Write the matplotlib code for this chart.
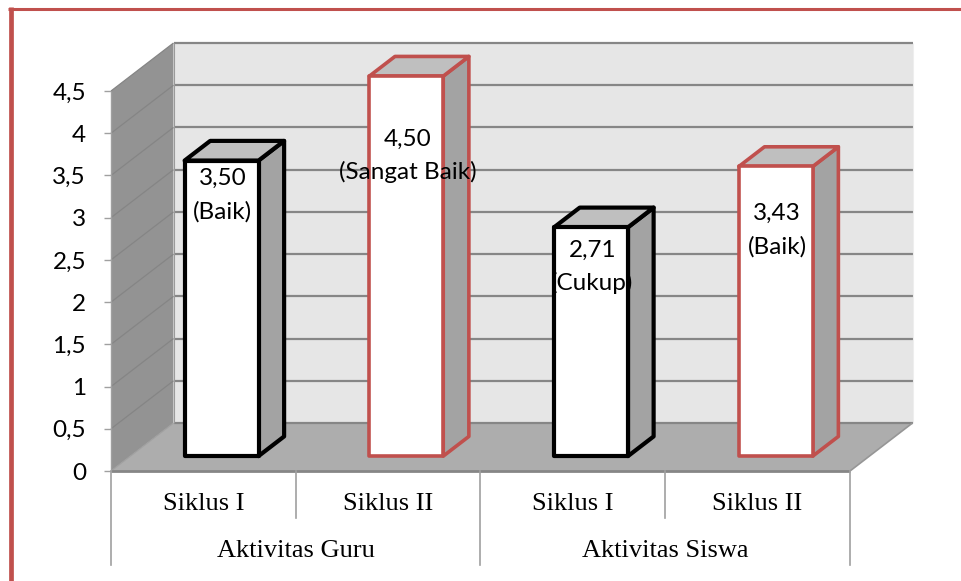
import matplotlib

matplotlib.use("Agg")
import matplotlib.pyplot as plt  # noqa: E402
from matplotlib.lines import Line2D  # noqa: E402
from matplotlib.patches import Polygon  # noqa: E402

categories = ["Siklus I", "Siklus II", "Siklus I", "Siklus II"]
groups = ["Aktivitas Guru", "Aktivitas Siswa"]
values = [3.50, 4.50, 2.71, 3.43]
ratings = ["Baik", "Sangat Baik", "Cukup", "Baik"]
y_ticks = [0, 0.5, 1, 1.5, 2, 2.5, 3, 3.5, 4, 4.5]
y_tick_labels = ["0", "0,5", "1", "1,5", "2", "2,5", "3", "3,5", "4", "4,5"]
edge_colors = ["#000000", "#C0504D", "#000000", "#C0504D"]
label_drop_px = [18, 63, 23, 47]

W, H = 961, 581
LEFT, RIGHT, Y0, YTOP = 111, 850, 471, 91
RED = "#C0504D"
GRID = "#868686"

fig = plt.figure(figsize=(W / 100, H / 100), dpi=100, facecolor="white")
ax = fig.add_axes([LEFT / W, 1 - Y0 / H, (RIGHT - LEFT) / W, (Y0 - YTOP) / H])
ax.set_xlim(0, len(values))
ax.set_ylim(0, 4.5)
ax.patch.set_visible(False)

px_x = len(values) / (RIGHT - LEFT)
px_y = 4.5 / (Y0 - YTOP)
DEPTH_X = 62.5 * px_x
DEPTH_Y = 48 * px_y
BAR_W = 0.40
BAR_D0 = 0.31
BAR_D1 = 0.72


def project(x, y, d=0.0):
    return x + d * DEPTH_X, y + d * DEPTH_Y


def face(points, color, z, edge="none", lw=0.0):
    ax.add_patch(Polygon([project(*p) for p in points], closed=True, facecolor=color,
                         edgecolor=edge, linewidth=lw, joinstyle="round", clip_on=False, zorder=z))


def seg(p0, p1, color=GRID, lw=1.5, z=2):
    a, b = project(*p0), project(*p1)
    ax.plot([a[0], b[0]], [a[1], b[1]], color=color, lw=lw, clip_on=False, zorder=z,
            solid_capstyle="butt")


n = len(values)
face([(0, 0, 1), (n, 0, 1), (n, 4.5, 1), (0, 4.5, 1)], "#E6E6E6", 1)
face([(0, 0, 0), (0, 0, 1), (0, 4.5, 1), (0, 4.5, 0)], "#939393", 1)
face([(0, 0, 0), (n, 0, 0), (n, 0, 1), (0, 0, 1)], "#ADADAD", 1)

for tick in y_ticks[1:]:
    seg((0, tick, 1), (n, tick, 1), lw=1.6)
    seg((0, tick, 0), (0, tick, 1), color="#858585", lw=0.9)
seg((0, 0, 1), (n, 0, 1), lw=1.6)
seg((0, 0, 0), (0, 0, 1), color="#A0A0A0", lw=0.9)
seg((n, 0, 0), (n, 0, 1), color="#969696", lw=1.2)
seg((0, 0, 0), (n, 0, 0), lw=2.0)
seg((0, 0, 1), (0, 4.5, 1), color="#9A9A9A", lw=0.8)
seg((n, 0, 1), (n, 4.5, 1), color="#EEEEEE", lw=0.8)
seg((0, 0, 0), (0, 4.5, 0), color="#A0A0A0", lw=1.0)

for i, (value, color) in enumerate(zip(values, edge_colors)):
    x0 = i + 0.5 - BAR_W / 2 - 1.2 * px_x
    x1 = x0 + BAR_W
    lw = 3.0 if color == "#000000" else 2.6
    face([(x1, 0, BAR_D0), (x1, 0, BAR_D1), (x1, value, BAR_D1), (x1, value, BAR_D0)], "#A3A3A3", 3 + i, color, lw)
    face([(x0, value, BAR_D0), (x1, value, BAR_D0), (x1, value, BAR_D1), (x0, value, BAR_D1)], "#BFBFBF", 3 + i, color, lw)
    face([(x0, 0, BAR_D0), (x1, 0, BAR_D0), (x1, value, BAR_D0), (x0, value, BAR_D0)], "white", 3 + i, color, lw)

for i, (value, rating) in enumerate(zip(values, ratings)):
    cx, top = project(i + 0.5, value, BAR_D0)
    y = top - label_drop_px[i] * px_y
    ax.text(cx, y, f"{value:.2f}".replace(".", ","), ha="center", va="center", fontsize=17.5,
            family="Lato", color="black", zorder=10)
    ax.text(cx, y - 33 * px_y, f"({rating})", ha="center", va="center", fontsize=17.5,
            family="Lato", color="black", zorder=10)

ax.set_yticks(y_ticks)
ax.set_yticklabels(y_tick_labels, family="Lato", fontsize=17.5)
ax.tick_params(axis="y", length=5, width=1.0, color="#A0A0A0", pad=13, labelcolor="black")
ax.set_xticks([i + 0.5 for i in range(n)])
ax.set_xticklabels(categories, family="Liberation Serif", fontsize=19)
ax.tick_params(axis="x", length=0, pad=16, labelcolor="black")
for spine in ax.spines.values():
    spine.set_visible(False)

for i in range(n + 1):
    low = -94 * px_y if i % 2 == 0 else -47 * px_y
    ax.plot([i, i], [0, low], color="#A0A0A0", lw=1.2, clip_on=False, zorder=2)
for g, name in enumerate(groups):
    ax.text(2 * g + 1, -80 * px_y, name, ha="center", va="center", family="Liberation Serif",
            fontsize=19, color="black")

# outer frame from the pasted picture, only left and top edges
fig.add_artist(Line2D([10.5 / W, 10.5 / W], [0, 1 - 7 / H], color=RED, lw=3.4, solid_capstyle="butt"))
fig.add_artist(Line2D([8 / W, 1], [1 - 8.5 / H, 1 - 8.5 / H], color=RED, lw=2.2, solid_capstyle="butt"))

fig.savefig("out.png", dpi=100, facecolor="white")
